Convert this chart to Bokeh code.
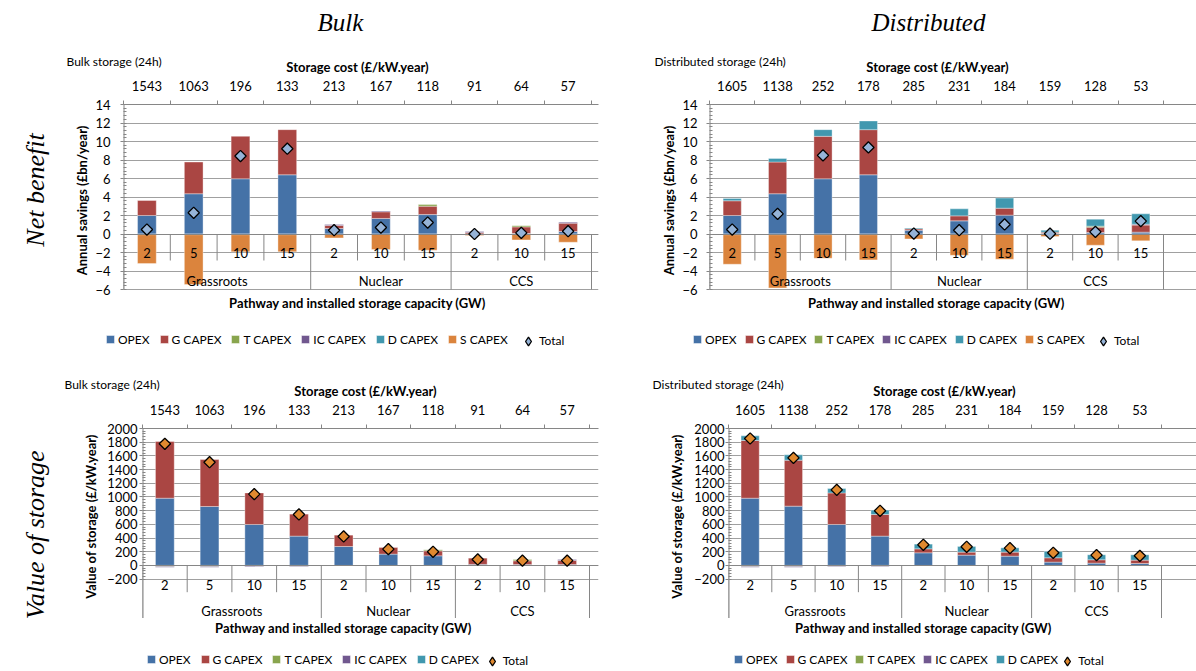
import numpy as np
from bokeh.plotting import figure
from bokeh.models import Range1d, FixedTicker, Legend, LegendItem, ColumnDataSource
from bokeh.layouts import column, row
from bokeh.embed import file_html
from bokeh.resources import INLINE
from bokeh.core.properties import value

FONT = "Lato"
SERIF = "Liberation Serif"

# ---------------- data ----------------
capacity = ["2", "5", "10", "15", "2", "10", "15", "2", "10", "15"]
pathway = ["Grassroots"] * 4 + ["Nuclear"] * 3 + ["CCS"] * 3
bulk_cost = ["1543", "1063", "196", "133", "213", "167", "118", "91", "64", "57"]
dist_cost = ["1605", "1138", "252", "178", "285", "231", "184", "159", "128", "53"]

series = ["OPEX", "G CAPEX", "T CAPEX", "IC CAPEX", "D CAPEX", "S CAPEX"]
colors = ["#4572A7", "#AA4643", "#89A54E", "#71588F", "#4198AF", "#DB843D"]
net_total_color = "#95B3D7"
val_total_color = "#E0892F"

# Net benefit, bulk storage (GBP bn / year)
bulk_net_opex = [2.0, 4.35, 5.97, 6.4, 0.59, 1.68, 2.1, 0.0, 0.05, 0.27]
bulk_net_g = [1.62, 3.43, 4.59, 4.88, 0.33, 0.72, 0.91, 0.15, 0.72, 0.9]
bulk_net_t = [-0.06, -0.06, -0.06, -0.06, 0.0, 0.0, 0.18, 0.0, 0.11, 0.0]
bulk_net_ic = [-0.02, -0.02, -0.02, -0.02, 0.11, 0.1, 0.0, 0.12, 0.0, 0.11]
bulk_net_d = [0.0] * 10
bulk_net_s = [-3.12, -5.39, -1.85, -1.85, -0.42, -1.68, -1.75, -0.17, -0.64, -0.89]
bulk_net_total = [0.48, 2.29, 8.43, 9.22, 0.41, 0.7, 1.24, 0.0, 0.12, 0.3]

# Net benefit, distributed storage
dist_net_opex = [2.0, 4.35, 5.97, 6.4, 0.41, 1.42, 2.04, 0.05, 0.16, 0.2]
dist_net_g = [1.59, 3.43, 4.59, 4.88, 0.15, 0.54, 0.75, 0.15, 0.58, 0.76]
dist_net_t = [-0.06, -0.06, -0.06, -0.06, 0.0, 0.0, 0.0, 0.0, 0.11, 0.0]
dist_net_ic = [-0.02, -0.02, -0.02, -0.02, 0.0, 0.0, 0.0, 0.0, 0.0, 0.1]
dist_net_d = [0.25, 0.39, 0.72, 0.94, 0.1, 0.76, 1.09, 0.21, 0.75, 1.12]
dist_net_s = [-3.19, -5.75, -2.54, -2.72, -0.53, -2.3, -2.73, -0.27, -1.21, -0.74]
dist_net_total = [0.48, 2.18, 8.5, 9.36, 0.05, 0.41, 1.03, 0.03, 0.23, 1.39]

# Value of storage, bulk (GBP / kW.year)
bulk_val_opex = [982, 861, 598, 428, 276, 165, 140, 15, 12, 12]
bulk_val_g = [828, 686, 461, 321, 166, 97, 73, 91, 55, 60]
bulk_val_t = [-15, -15, -10, -10, 0, 0, 15, 0, 20, 0]
bulk_val_ic = [-12, -12, -8, -8, 0, 0, 0, 0, 0, 15]
bulk_val_d = [0] * 10
bulk_val_total = [1776, 1508, 1041, 744, 423, 238, 199, 87, 70, 70]

# Value of storage, distributed
dist_val_opex = [982, 866, 598, 428, 184, 150, 135, 48, 33, 28]
dist_val_g = [843, 671, 461, 316, 58, 44, 59, 63, 49, 49]
dist_val_t = [-15, -15, -10, -10, 0, 0, 0, 0, 0, 0]
dist_val_ic = [-12, -12, -8, -8, 0, 0, 0, 0, 0, 0]
dist_val_d = [68, 78, 64, 64, 69, 83, 63, 93, 73, 78]
dist_val_total = [1854, 1571, 1104, 798, 301, 272, 252, 184, 150, 140]

AXIS_GRAY = "#868686"
GRID_GRAY = "#a0a0a0"
WIN_W = 1196


def make_panel(comps, cols, totals, total_color, costs, geo, ycfg, lay):
    (px0, py0), (W, H), (bl, br, bt, bb), cat_w = geo["page"], geo["size"], geo["border"], geo["cat_w"]
    fl, ft = px0 + bl, py0 + bt
    fw, fh = W - bl - br, H - bt - bb
    y_end, vis_lo, vis_px = ycfg["top"], ycfg["vis_lo"], ycfg["vis_px"]
    ky = vis_px / (y_end - vis_lo)          # pixels per data unit
    y_start = y_end - fh / ky
    x_end = fw / cat_w

    def dy(py):
        return y_end - (py - ft) / ky

    p = figure(width=W, height=H, x_range=Range1d(0, x_end), y_range=Range1d(y_start, y_end),
               x_axis_location="above", toolbar_location=None, output_backend="svg",
               min_border_left=bl, min_border_right=br, min_border_top=bt, min_border_bottom=bb)
    p.outline_line_color = None
    p.background_fill_color = "white"
    p.border_fill_color = "white"
    p.xgrid.visible = False

    n = len(costs)
    x = np.arange(n) + 0.5

    p.ygrid.ticker = FixedTicker(ticks=ycfg["ticks"])
    p.ygrid.grid_line_color = GRID_GRAY
    p.ygrid.grid_line_width = 1

    # stacked bars: positives and negatives stacked separately (as in Excel)
    pos = np.zeros(n)
    neg = np.zeros(n)
    for vals, col in zip(comps, cols):
        v = np.asarray(vals, dtype=float)
        bottom = np.where(v >= 0, pos, neg)
        top = bottom + v
        pos = np.where(v >= 0, top, pos)
        neg = np.where(v < 0, top, neg)
        m = v != 0
        src = ColumnDataSource(dict(x=x[m], bottom=bottom[m], top=top[m]))
        p.vbar(x="x", bottom="bottom", top="top", width=lay["bw"], source=src,
               fill_color=col, line_color="white", line_alpha=0.45, line_width=0.8)

    # category axis line at zero
    p.hspan(y=[0], line_color=AXIS_GRAY, line_width=1)

    # category separators (value axis line continues down to the bottom of the category area)
    groups_break = {0, n} | {i for i in range(1, n) if pathway[i] != pathway[i - 1]}
    sub_b = [b for b in range(n + 1) if b not in groups_break]
    grp_b = sorted(groups_break)
    y_grp = dy(lay["grp_sep"])
    p.segment(x0=sub_b, y0=[0] * len(sub_b), x1=sub_b, y1=[dy(lay["sub_sep"])] * len(sub_b),
              line_color=AXIS_GRAY, line_width=1)
    p.segment(x0=grp_b, y0=[0] * len(grp_b), x1=grp_b, y1=[y_grp] * len(grp_b),
              line_color=AXIS_GRAY, line_width=1)
    p.segment(x0=[0], y0=[y_grp], x1=[0], y1=[y_end], line_color=AXIS_GRAY, line_width=2)

    # category labels
    p.text(x=x, y=[dy(lay["sub_y"])] * n, text=capacity, text_align="center", text_baseline="middle",
           text_font=value(FONT), text_font_size="13px", text_color="black")
    gnames, gx = [], []
    for g in dict.fromkeys(pathway):
        idx = [i for i, q in enumerate(pathway) if q == g]
        gnames.append(g)
        gx.append(float(np.mean(x[idx])))
    p.text(x=gx, y=[dy(lay["grp_y"])] * len(gx), text=gnames, text_align="center", text_baseline="middle",
           text_font=value(FONT), text_font_size="13px", text_color="black")

    # totals
    p.scatter(x=x, y=totals, marker="square", angle=np.pi / 4, size=8,
              fill_color=total_color, line_color="black", line_width=1.3)

    # top axis: storage cost
    ax = p.xaxis[0]
    ax.ticker = FixedTicker(ticks=list(x), minor_ticks=list(range(n + 1)))
    ax.major_label_overrides = {float(xi): c for xi, c in zip(x, costs)}
    ax.axis_line_color = AXIS_GRAY
    ax.major_tick_line_color = None
    ax.major_tick_out = 0
    ax.major_tick_in = 0
    ax.minor_tick_line_color = AXIS_GRAY
    ax.minor_tick_out = 4
    ax.minor_tick_in = 0
    ax.major_label_standoff = 10
    ax.major_label_text_font = FONT
    ax.major_label_text_font_size = "13px"
    ax.major_label_text_color = "black"

    # left axis
    ay = p.yaxis[0]
    ay.ticker = FixedTicker(ticks=ycfg["ticks"], minor_ticks=ycfg["minor"])
    ay.axis_line_color = None
    ay.major_tick_line_color = AXIS_GRAY
    ay.major_tick_out = 3
    ay.major_tick_in = 0
    ay.minor_tick_line_color = AXIS_GRAY
    ay.minor_tick_out = 0
    ay.minor_tick_in = 3
    ay.major_label_standoff = lay["y_standoff"]
    ay.major_label_text_font = FONT
    ay.major_label_text_font_size = "13px"
    ay.major_label_text_color = "black"
    if lay.get("axis_label", True):
        ay.axis_label = ycfg["label"]
        ay.axis_label_text_font = FONT
        ay.axis_label_text_font_style = "bold"
        ay.axis_label_text_font_size = "13px"
        ay.axis_label_text_color = "black"
        ay.axis_label_standoff = lay["ylab_standoff"]
    return p


def blank(w, h):
    f = figure(width=w, height=h, x_range=Range1d(0, w), y_range=Range1d(0, h), toolbar_location=None,
               output_backend="svg", min_border=0, x_axis_location=None, y_axis_location=None)
    f.grid.visible = False
    f.outline_line_color = None
    return f


def put(f, xs, ys, texts, size, style="normal", align="center", font=FONT, angle=0):
    f.text(x=xs, y=ys, text=texts, angle=angle, text_align=align, text_baseline="middle",
           text_font=value(font), text_font_style=style, text_font_size=size, text_color="black")


def add_legend(f, names, cols, total_color, left, total_cx, cy, spacing):
    # legend swatches need a renderer; a single NaN row draws nothing in the plot itself
    items = []
    for name, col in zip(names, cols):
        r = f.vbar(x=[np.nan], top=[np.nan], width=1, fill_color=col, line_color="white", line_alpha=0.45)
        items.append(LegendItem(label=name, renderers=[r]))
    common = dict(orientation="horizontal", padding=0, margin=0, border_line_color=None,
                  background_fill_alpha=0, label_text_font=FONT, label_text_font_size="12px",
                  label_text_color="black")
    f.add_layout(Legend(items=items, location=(left, f.height - (cy + 6)), glyph_width=10, glyph_height=10,
                        label_height=12, label_standoff=3, spacing=spacing, **common))
    rt = f.scatter(x=[np.nan], y=[np.nan], marker="diamond", size=12,
                   fill_color=total_color, line_color="black", line_width=1.3)
    gw, gh = 22, 28
    f.add_layout(Legend(items=[LegendItem(label="Total", renderers=[rt])],
                        location=(total_cx - gw / 2, f.height - (cy + gh / 2)), glyph_width=gw, glyph_height=gh,
                        label_height=12, label_standoff=0, **common))


net_y = dict(top=14, vis_lo=-6, vis_px=185, ticks=list(range(-6, 15, 2)),
             minor=[round(v, 2) for v in np.arange(-6, 14.001, 0.4)], label="Annual savings (£bn/year)")
val_y = dict(top=2000, vis_lo=-200, vis_px=150.6, ticks=list(range(-200, 2001, 200)),
             minor=list(range(-200, 2001, 40)), label="Value of storage (£/kW.year)")

# ---- header row 1 (y 0..76) ----
H1 = 76
header1 = blank(WIN_W, H1)
put(header1, [340, 928], [H1 - 22] * 2, ["Bulk", "Distributed"], "25px", "italic", font=SERIF)
put(header1, [66, 654], [H1 - 60.7] * 2, ["Bulk storage (24h)", "Distributed storage (24h)"], "12px",
    align="left")
put(header1, [357, 937], [H1 - 66] * 2, ["Storage cost (£/kW.year)"] * 2, "13px", "bold")

# ---- row 1 charts (y 76..296; plot area 104..289) ----
TL = make_panel(
    [bulk_net_opex, bulk_net_g, bulk_net_t, bulk_net_ic, bulk_net_d, bulk_net_s], colors,
    bulk_net_total, net_total_color, bulk_cost,
    dict(page=(60, 76), size=(540, 220), border=(63, 2, 28, 0), cat_w=46.8), net_y,
    dict(bw=0.4, sub_sep=260, grp_sep=289, sub_y=252.7, grp_y=280, y_standoff=10, ylab_standoff=2))
TR = make_panel(
    [dist_net_opex, dist_net_g, dist_net_t, dist_net_ic, dist_net_d, dist_net_s], colors,
    dist_net_total, net_total_color, dist_cost,
    dict(page=(600, 76), size=(596, 220), border=(109, 0, 28, 0), cat_w=45.4), net_y,
    dict(bw=0.4, sub_sep=260, grp_sep=289, sub_y=252.7, grp_y=280, y_standoff=9, ylab_standoff=2))
strip1 = blank(60, 220)
put(strip1, [35], [296 - 174], ["Net benefit"], "26px", "italic", font=SERIF, angle=np.pi / 2)

# ---- footer row 1 (y 296..358) ----
F1 = 62
footer1 = blank(WIN_W, F1)
put(footer1, [357, 936], [358 - 302.5] * 2, ["Pathway and installed storage capacity (GW)"] * 2, "13px", "bold")
add_legend(footer1, series, colors, net_total_color, 105, 528, 340.7 - 296, 9)
add_legend(footer1, series, colors, net_total_color, 692, 1103, 340.7 - 296, 7)

# ---- header row 2 (y 358..400) ----
H2 = 42
header2 = blank(WIN_W, H2)
put(header2, [64, 652], [400 - 384] * 2, ["Bulk storage (24h)", "Distributed storage (24h)"], "12px",
    align="left")
put(header2, [365, 944], [400 - 390] * 2, ["Storage cost (£/kW.year)"] * 2, "13px", "bold")

# ---- row 2 charts (y 400..618; plot area 428..578) ----
BL = make_panel(
    [bulk_val_opex, bulk_val_g, bulk_val_t, bulk_val_ic, bulk_val_d], colors[:5],
    bulk_val_total, val_total_color, bulk_cost,
    dict(page=(100, 400), size=(500, 218), border=(42, 2, 28, 0), cat_w=44.7), val_y,
    dict(bw=0.42, sub_sep=591.7, grp_sep=618, sub_y=584, grp_y=610.7, y_standoff=2, axis_label=False))
BR = make_panel(
    [dist_val_opex, dist_val_g, dist_val_t, dist_val_ic, dist_val_d], colors[:5],
    dist_val_total, val_total_color, dist_cost,
    dict(page=(690, 400), size=(506, 218), border=(38, 0, 28, 0), cat_w=43.3), val_y,
    dict(bw=0.42, sub_sep=591.7, grp_sep=618, sub_y=584, grp_y=610.7, y_standoff=1, axis_label=False))
# left strip with the row title and the value-axis title (centred on the plot area, as in Excel)
strip2 = blank(100, 218)
put(strip2, [35], [618 - 522], ["Value of storage"], "26px", "italic", font=SERIF, angle=np.pi / 2)
put(strip2, [90], [618 - 501], [val_y["label"]], "13px", "bold", angle=np.pi / 2)
ylab2 = blank(90, 218)
put(ylab2, [676.7 - 600], [618 - 501], [val_y["label"]], "13px", "bold", angle=np.pi / 2)

# ---- footer row 2 (y 618..671) ----
F2 = 53
footer2 = blank(WIN_W, F2)
put(footer2, [343, 923], [671 - 627.7] * 2, ["Pathway and installed storage capacity (GW)"] * 2, "13px", "bold")
add_legend(footer2, series[:5], colors[:5], val_total_color, 146, 491.7, 660.7 - 618, 9)
add_legend(footer2, series[:5], colors[:5], val_total_color, 733, 1067.3, 660.7 - 618, 7)

layout = column(header1, row(strip1, TL, TR), footer1, header2, row(strip2, BL, ylab2, BR), footer2)
open("out.html", "w").write(file_html(layout, INLINE))
